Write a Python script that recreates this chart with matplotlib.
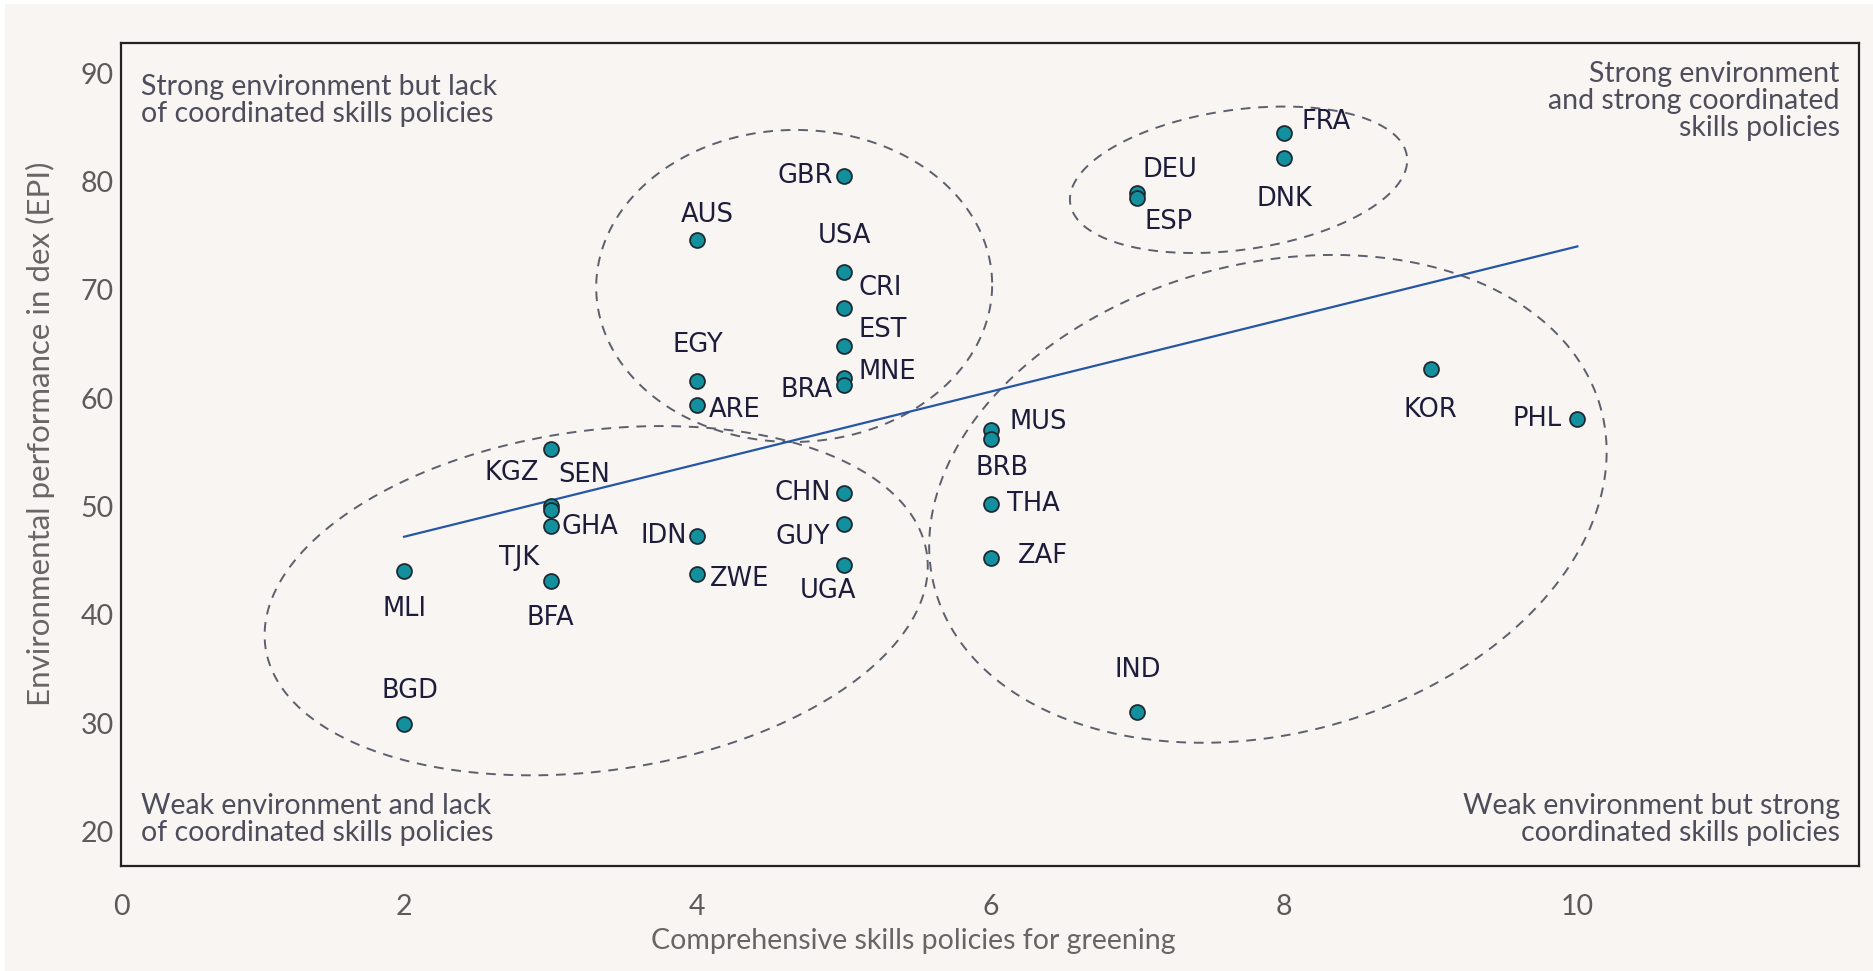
import numpy as np
import matplotlib.pyplot as plt
from matplotlib.patches import Rectangle

# data
countries = ['GBR', 'AUS', 'USA', 'CRI', 'EST', 'MNE', 'BRA', 'EGY', 'ARE',
             'DEU', 'ESP', 'FRA', 'DNK', 'KOR', 'PHL', 'MUS', 'BRB', 'THA',
             'ZAF', 'IND', 'CHN', 'GUY', 'UGA', 'IDN', 'ZWE', 'KGZ', 'SEN',
             'TJK', 'GHA', 'BFA', 'MLI', 'BGD']
skills = [5, 4, 5, 5, 5, 5, 5, 4, 4,
          7, 7, 8, 8, 9, 10, 6, 6, 6,
          6, 7, 5, 5, 5, 4, 4, 3, 3,
          3, 3, 3, 2, 2]
epi = [80.5, 74.6, 71.6, 68.3, 64.8, 61.9, 61.2, 61.6, 59.4,
       78.9, 78.5, 84.5, 82.2, 62.7, 58.1, 57.1, 56.2, 50.2,
       45.2, 31.0, 51.2, 48.4, 44.6, 47.3, 43.8, 55.3, 50.0,
       49.7, 48.2, 43.1, 44.0, 29.9]

trend_x = [2, 10]
trend_y = [47.2, 74.0]

xtick_vals = [0, 2, 4, 6, 8, 10]
ytick_vals = [20, 30, 40, 50, 60, 70, 80, 90]

# label placement: offset in pixels from the dot, horizontal alignment
label_pos = {
    'GBR': (-11, 0, 'right'), 'AUS': (10, 25, 'center'), 'USA': (0, 36, 'center'),
    'CRI': (14, 20, 'left'), 'EST': (14, 16, 'left'), 'MNE': (14, 6, 'left'),
    'BRA': (-11, -5, 'right'), 'EGY': (0, 36, 'center'), 'ARE': (11, -5, 'left'),
    'DEU': (5, 23, 'left'), 'ESP': (7, -24, 'left'), 'FRA': (17, 11, 'left'),
    'DNK': (0, -41, 'center'), 'KOR': (0, -41, 'center'), 'PHL': (-16, 0, 'right'),
    'MUS': (19, 8, 'left'), 'BRB': (11, -29, 'center'), 'THA': (16, 0, 'left'),
    'ZAF': (27, 2, 'left'), 'IND': (0, 42, 'center'), 'CHN': (-13, 0, 'right'),
    'GUY': (-14, -13, 'right'), 'UGA': (-16, -26, 'center'), 'IDN': (-10, 0, 'right'),
    'ZWE': (12, -5, 'left'), 'KGZ': (-39, -24, 'center'), 'SEN': (33, 31, 'center'),
    'TJK': (-32, -48, 'center'), 'GHA': (11, -1, 'left'), 'BFA': (0, -37, 'center'),
    'MLI': (0, -38, 'center'), 'BGD': (6, 33, 'center'),
}

# group ellipses: centre (data), semi-axes (pixels), angle (deg)
ellipses = [
    (4.66, 70.35, 198, 156, 1),
    (7.69, 80.15, 170, 70, 8),
    (3.31, 41.3, 334, 170, 8),
    (7.89, 50.7, 345, 235, 15),
]

bg = '#f8f5f2'
W, H = 18.73, 9.71
fig = plt.figure(figsize=(W, H), dpi=100, facecolor='white')
fig.patches.append(Rectangle((5 / 1873, 0), 1, 967 / 971, transform=fig.transFigure,
                             facecolor=bg, edgecolor='none', zorder=-10))
ax = fig.add_axes([0.0646, 0.108, 0.9279, 0.848])
ax.set_facecolor(bg)

xmin, xmax = 0.07, 11.92
ymin, ymax = 16.8, 92.8
ax.set_xlim(xmin, xmax)
ax.set_ylim(ymin, ymax)

# pixels per data unit
bw = 0.9279 * W * 100
bh = 0.848 * H * 100
sx = bw / (xmax - xmin)
sy = bh / (ymax - ymin)

t = np.linspace(0, 2 * np.pi, 400)
for cx, cy, a, b, ang in ellipses:
    th = np.radians(ang)
    ex = cx + (a * np.cos(t) * np.cos(th) - b * np.sin(t) * np.sin(th)) / sx
    ey = cy + (a * np.cos(t) * np.sin(th) + b * np.sin(t) * np.cos(th)) / sy
    ax.plot(ex, ey, color='#5b606c', lw=1.4, linestyle=(0, (5, 4)), zorder=2)

ax.plot(trend_x, trend_y, color='#2556a6', lw=1.6, zorder=3)

ax.scatter(skills, epi, s=115, color='#13909d', edgecolors='#1b2a33',
           linewidths=1.3, zorder=4)

for name, x, y in zip(countries, skills, epi):
    dx, dy, ha = label_pos[name]
    ax.annotate(name, (x, y), xytext=(dx, dy), textcoords='offset pixels',
                ha=ha, va='center', fontsize=18.5, color='#1d1d3b',
                family='DejaVu Sans', zorder=5)

qfont = dict(fontsize=20.5, color='#4d4d5c', family='Lato', linespacing=1.05)
ax.text(0.0115, 0.962, 'Strong environment but lack\nof coordinated skills policies',
        transform=ax.transAxes, ha='left', va='top', **qfont)
ax.text(0.989, 0.978, 'Strong environment\nand strong coordinated\nskills policies',
        transform=ax.transAxes, ha='right', va='top', **qfont)
ax.text(0.0115, 0.024, 'Weak environment and lack\nof coordinated skills policies',
        transform=ax.transAxes, ha='left', va='bottom', **qfont)
ax.text(0.989, 0.024, 'Weak environment but strong\ncoordinated skills policies',
        transform=ax.transAxes, ha='right', va='bottom', multialignment='right', **qfont)

# the 0 tick sits on the left spine in the original
ax.set_xticks([max(v, xmin) for v in xtick_vals])
ax.set_xticklabels([str(v) for v in xtick_vals])
ax.set_yticks(ytick_vals)
ax.tick_params(length=0, labelsize=20.5, colors='#5f5a5a')
ax.tick_params(axis='x', pad=20)
ax.tick_params(axis='y', pad=5)
for lab in ax.get_xticklabels() + ax.get_yticklabels():
    lab.set_family('Lato')

ax.set_xlabel('Comprehensive skills policies for greening', fontsize=20.5,
              color='#6a6464', family='Lato')
ax.xaxis.set_label_coords(0.456, -0.075)
ax.set_ylabel('Environmental performance in dex (EPI)', fontsize=22.5,
              color='#6a6464', family='Lato')
ax.yaxis.set_label_coords(-0.038, 0.525)

for sp in ax.spines.values():
    sp.set_color('#222222')
    sp.set_linewidth(1.6)

fig.savefig('out.png', dpi=100, facecolor='white')
